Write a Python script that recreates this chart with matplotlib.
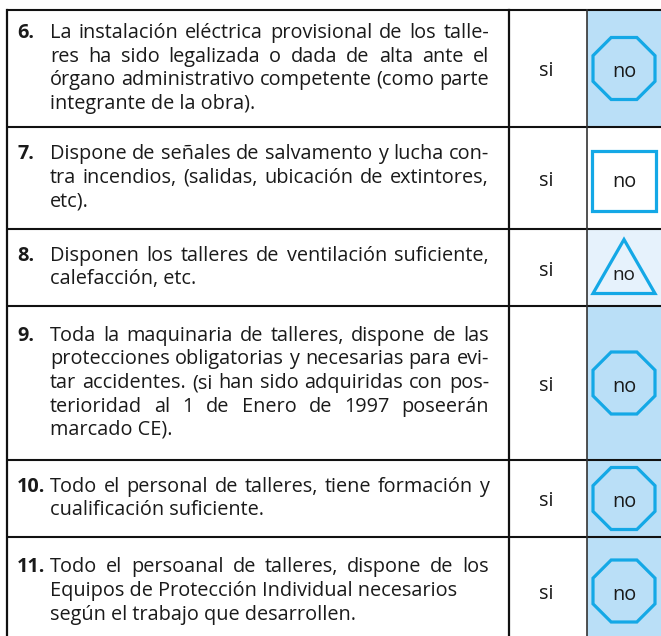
import numpy as np
import matplotlib.pyplot as plt
from matplotlib.patches import Polygon, Rectangle

# checklist content
numbers = ['6.', '7.', '8.', '9.', '10.', '11.']
questions = [
    ['La instalación eléctrica provisional de los talle-',
     'res ha sido legalizada o dada de alta ante el',
     'órgano administrativo competente (como parte',
     'integrante de la obra).'],
    ['Dispone de señales de salvamento y lucha con-',
     'tra incendios, (salidas, ubicación de extintores,',
     'etc).'],
    ['Disponen los talleres de ventilación suficiente,',
     'calefacción, etc.'],
    ['Toda la maquinaria de talleres, dispone de las',
     'protecciones obligatorias y necesarias para evi-',
     'tar accidentes. (si han sido adquiridas con pos-',
     'terioridad al 1 de Enero de 1997 poseerán',
     'marcado CE).'],
    ['Todo el personal de talleres, tiene formación y',
     'cualificación suficiente.'],
    ['Todo el persoanal de talleres, dispone de los',
     'Equipos de Protección Individual necesarios',
     'según el trabajo que desarrollen.'],
]
shapes = ['octagon', 'square', 'triangle', 'octagon', 'octagon', 'octagon']
yes_label = 'si'
no_label = 'no'
ragged = {(5, 1)}  # lines left unjustified in the original

# layout (pixels)
W, H = 661, 636
row_edges = [10, 127, 229, 306, 460, 537, 645]
x_left, x_si, x_no, x_right = 7, 509, 587, 661
x_text, x_text_end = 50, 489
line_h = 23.6
font = 'Open Sans'
ink = '#1a1a1a'

blue = '#14a8e6'
fills = {'octagon': '#badff7', 'square': '#ffffff', 'triangle': '#e6f2fc'}

fig = plt.figure(figsize=(W / 100, H / 100), dpi=100)
ax = fig.add_axes([0, 0, 1, 1])
ax.set_xlim(0, W)
ax.set_ylim(H, 0)
ax.axis('off')
renderer = fig.canvas.get_renderer()


def width_px(s, size):
    t = ax.text(0, 0, s, fontsize=size, family=font)
    w = t.get_window_extent(renderer).width
    t.remove()
    return w


# pick a font size so the widest justified line still fits the column
full = x_text_end - x_text
widest = max(width_px(l, 12) for q in questions for l in q[:-1])
fs = 12 * (full - 2) / widest

no_cx = (x_no + x_right) / 2
si_cx = (x_si + x_no) / 2

for i, (num, lines, shp) in enumerate(zip(numbers, questions, shapes)):
    top, bot = row_edges[i], row_edges[i + 1]
    cy = (top + bot) / 2
    ax.add_patch(Rectangle((x_no, top), x_right - x_no, bot - top,
                           facecolor=fills[shp], edgecolor='none', zorder=1))
    n = len(lines)
    for k, line in enumerate(lines):
        yb = round(cy + (k - (n - 1) / 2) * line_h + 5)
        words = line.split(' ')
        if k == n - 1 or len(words) == 1 or (i, k) in ragged:
            ax.text(x_text, yb, line, fontsize=fs, family=font, color=ink,
                    va='baseline', ha='left', zorder=3)
            continue
        ws = [width_px(wd, fs) for wd in words]
        gap = (full - sum(ws)) / (len(words) - 1)
        x = x_text
        for wd, wpx in zip(words, ws):
            ax.text(x, yb, wd, fontsize=fs, family=font, color=ink,
                    va='baseline', ha='left', zorder=3)
            x += wpx + gap
    ax.text(17, round(cy - (n - 1) / 2 * line_h + 5), num, fontsize=fs, family=font,
            fontweight='bold', color=ink, va='baseline', ha='left', zorder=3)
    ax.text(si_cx - 2, cy + 8, yes_label, fontsize=fs, family=font, color=ink,
            va='baseline', ha='center', zorder=3)

    if shp == 'octagon':
        r = 31 / np.cos(np.pi / 8)
        ang = np.pi / 8 + np.arange(8) * np.pi / 4
        pts = np.column_stack([no_cx + r * np.cos(ang), cy + r * np.sin(ang)])
        ax.add_patch(Polygon(pts, closed=True, fill=False, edgecolor=blue,
                             lw=2.3, joinstyle='miter', zorder=2))
        ty = cy + 8.5
    elif shp == 'square':
        ax.add_patch(Rectangle((no_cx - 32, cy - 27), 64, 60, fill=False,
                               edgecolor=blue, lw=2.3, zorder=2))
        ty = cy + 9
    else:
        pts = [(no_cx, cy - 28), (no_cx + 31, cy + 26), (no_cx - 31, cy + 26)]
        ax.add_patch(Polygon(pts, closed=True, fill=False, edgecolor=blue,
                             lw=2.3, joinstyle='miter', zorder=2))
        ty = cy + 12.5
    ax.text(no_cx, ty, no_label, fontsize=fs * 0.95 if shp == 'triangle' else fs,
            family=font, color=ink, va='baseline', ha='center', zorder=3)

# grid lines
for y in row_edges[:-1]:
    ax.plot([x_left, x_right], [y, y], color='#111111', lw=1.5, zorder=4,
            solid_capstyle='butt')
ax.plot([x_left, x_left], [row_edges[0], H], color='#111111', lw=1.6, zorder=4)
ax.plot([x_si, x_si], [row_edges[0], H], color='#111111', lw=1.6, zorder=4)
ax.plot([x_no, x_no], [row_edges[0], H], color='#333333', lw=1.2, zorder=4)

fig.savefig('out.png', dpi=100)
